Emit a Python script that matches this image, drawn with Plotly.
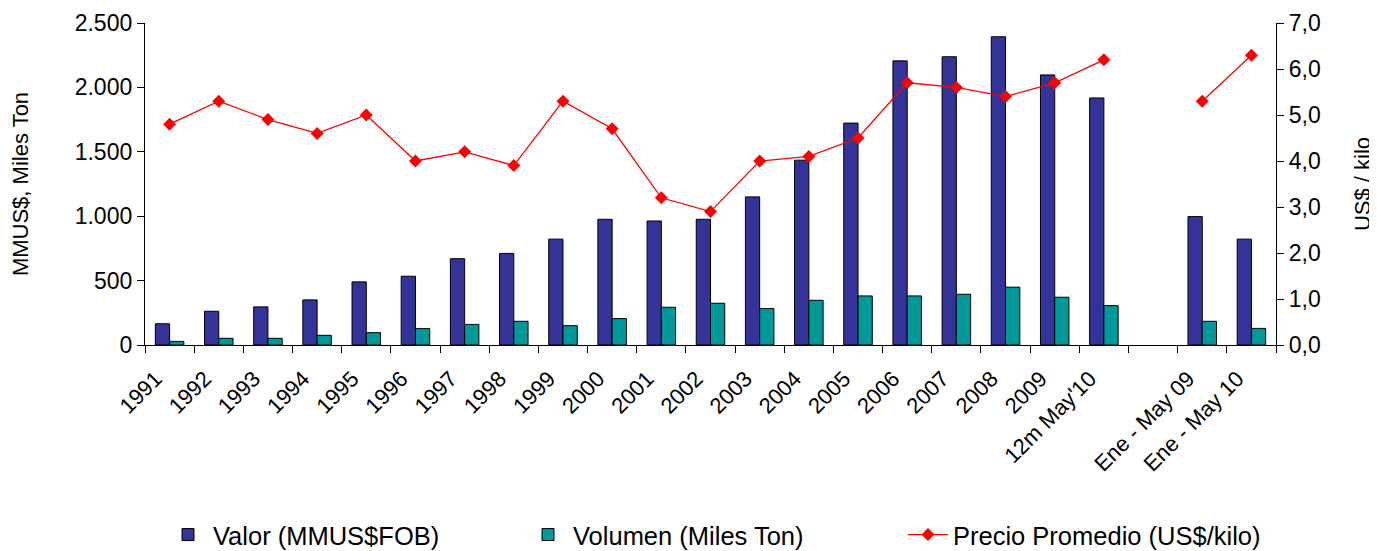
import plotly.graph_objects as go

categories = ["1991", "1992", "1993", "1994", "1995", "1996", "1997", "1998", "1999",
              "2000", "2001", "2002", "2003", "2004", "2005", "2006", "2007", "2008",
              "2009", "12m May'10", " ", "Ene - May 09", "Ene - May 10"]
valor = [165, 262, 296, 350, 490, 534, 670, 711, 822, 976, 963, 976, 1150, 1435, 1723,
         2206, 2238, 2393, 2097, 1918, None, 997, 822]
volumen = [28, 52, 52, 75, 96, 127, 160, 184, 150, 205, 293, 324, 283, 347, 381,
           381, 394, 449, 371, 306, None, 184, 129]
precio = [4.8, 5.3, 4.9, 4.6, 5.0, 4.0, 4.2, 3.9, 5.3, 4.7, 3.2, 2.9, 4.0, 4.1, 4.5,
          5.7, 5.6, 5.4, 5.7, 6.2, None, 5.3, 6.3]

FONT = "Liberation Sans, Arial, sans-serif"
OFF = 8  # page body margin
W, H = 1377 - OFF, 551 - OFF
L, T = 145 - OFF, 23 - OFF
R = W - (1276 - OFF)
B = H - (345 - OFF)
PW = W - L - R
PH = H - T - B

fig = go.Figure()
fig.add_trace(go.Bar(x=categories, y=valor, name="Valor (MMUS$FOB)",
                     marker=dict(color="#333399", line=dict(color="#000000", width=1)),
                     legend="legend"))
fig.add_trace(go.Bar(x=categories, y=volumen, name="Volumen (Miles Ton)",
                     marker=dict(color="#009999", line=dict(color="#000000", width=1)),
                     legend="legend2"))
fig.add_trace(go.Scatter(x=categories, y=precio, name="Precio Promedio (US$/kilo)",
                         yaxis="y2", mode="lines+markers",
                         line=dict(color="#FF0000", width=1.3),
                         marker=dict(symbol="diamond", size=10, color="#FF0000"),
                         connectgaps=False, legend="legend3"))

legend_common = dict(orientation="h", yanchor="middle", y=-(535 - 345) / PH,
                     xanchor="left",
                     font=dict(family=FONT, size=25.5, color="#000000"),
                     bgcolor="rgba(0,0,0,0)", itemwidth=40)

fig.update_layout(
    width=W, height=H,
    margin=dict(l=L, r=R, t=T, b=B, autoexpand=False),
    paper_bgcolor="white", plot_bgcolor="white",
    separators=",.",
    showlegend=True,
    barmode="group", bargap=0.42, bargroupgap=0,
    font=dict(family=FONT, size=19, color="#000000"),
    legend=dict(legend_common, x=(163 - 145) / PW),
    legend2=dict(legend_common, x=(523 - 145) / PW),
    legend3=dict(legend_common, x=(903 - 145) / PW),
    xaxis=dict(type="category", range=[-0.5, 22.5], tickangle=-45, tickson="boundaries",
               ticks="outside", ticklen=7, tickcolor="#000000",
               ticklabelshift=-14, ticklabelstandoff=11,
               showline=True, linecolor="#000000", linewidth=1.3, automargin=False,
               tickfont=dict(family=FONT, size=22), showgrid=False),
    yaxis=dict(range=[0, 2500], dtick=500, tickformat=",.0f",
               ticks="outside", ticklen=7, tickcolor="#000000", automargin=False,
               showline=True, linecolor="#000000", linewidth=1.3, showgrid=False,
               zeroline=False, tickfont=dict(family=FONT, size=23),
               title=dict(text="MMUS$, Miles Ton", font=dict(family=FONT, size=22), standoff=41)),
    yaxis2=dict(range=[0, 7], dtick=1, tickformat=".1f", overlaying="y", side="right",
                ticks="outside", ticklen=7, tickcolor="#000000", automargin=False,
                showline=True, linecolor="#000000", linewidth=1.3, showgrid=False,
                zeroline=False, tickfont=dict(family=FONT, size=23),
                title=dict(text="US$ / kilo", font=dict(family=FONT, size=22), standoff=34)),
)

fig.write_html("out.html")
